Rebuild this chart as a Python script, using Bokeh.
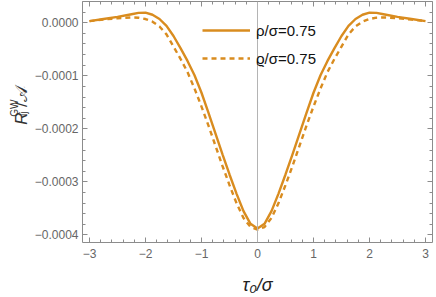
from math import pi
import numpy as np
from bokeh.plotting import figure
from bokeh.layouts import row
from bokeh.models import Range1d, FixedTicker, LinearAxis, Span, Label, Legend, LegendItem
from bokeh.embed import file_html
from bokeh.resources import INLINE

# ---- data ----
tau = [-3.0, -2.75, -2.5, -2.25, -2.125, -2.0, -1.875, -1.75, -1.625, -1.5, -1.375,
       -1.25, -1.125, -1.0, -0.875, -0.75, -0.625, -0.5, -0.375, -0.25, -0.125, 0.0,
       0.125, 0.25, 0.375, 0.5, 0.625, 0.75, 0.875, 1.0, 1.125, 1.25, 1.375, 1.5,
       1.625, 1.75, 1.875, 2.0, 2.125, 2.25, 2.5, 2.75, 3.0]

r_solid = [3.0e-6, 7.0e-6, 1.1e-5, 1.6e-5, 1.85e-5, 1.9e-5, 1.5e-5, 7.0e-6, -6.0e-6, -2.5e-5, -4.8e-5,
           -7.2e-5, -9.9e-5, -1.32e-4, -1.70e-4, -2.09e-4, -2.48e-4, -2.86e-4, -3.22e-4, -3.55e-4, -3.79e-4, -3.877e-4,
           -3.79e-4, -3.55e-4, -3.22e-4, -2.86e-4, -2.48e-4, -2.09e-4, -1.70e-4, -1.32e-4, -9.9e-5, -7.2e-5, -4.8e-5, -2.5e-5,
           -6.0e-6, 7.0e-6, 1.5e-5, 1.9e-5, 1.85e-5, 1.6e-5, 1.1e-5, 7.0e-6, 3.0e-6]

r_dashed = [3.0e-6, 6.0e-6, 8.5e-6, 1.0e-5, 9.5e-6, 7.0e-6, 2.0e-6, -7.0e-6, -2.2e-5, -4.5e-5, -6.8e-5,
            -9.3e-5, -1.24e-4, -1.58e-4, -1.94e-4, -2.32e-4, -2.70e-4, -3.06e-4, -3.40e-4, -3.68e-4, -3.85e-4, -3.90e-4,
            -3.85e-4, -3.68e-4, -3.40e-4, -3.06e-4, -2.70e-4, -2.32e-4, -1.94e-4, -1.58e-4, -1.24e-4, -9.3e-5, -6.8e-5, -4.5e-5,
            -2.2e-5, -7.0e-6, 2.0e-6, 7.0e-6, 9.5e-6, 1.0e-5, 8.5e-6, 6.0e-6, 3.0e-6]

x_ticks = [-3, -2, -1, 0, 1, 2, 3]
x_tick_labels = ["\u22123", "\u22122", "\u22121", "0", "1", "2", "3"]
y_ticks = [-0.0004, -0.0003, -0.0002, -0.0001, 0.0]
y_tick_labels = ["\u22120.0004", "\u22120.0003", "\u22120.0002", "\u22120.0001", "0.0000"]
legend_labels = ["\u03c1/\u03c3=0.75", "\u03f1/\u03c3=0.75"]

ORANGE = "#D98C1F"
FRAME = "#8c8c8c"
LABEL = "#666666"
FONT = "Liberation Sans"

# ---- narrow strip holding the composite y-axis title ----
lab = figure(width=30, height=297, output_backend="svg", toolbar_location=None,
             x_range=Range1d(0, 30), y_range=Range1d(0, 297),
             min_border=0, min_border_left=0, min_border_right=0, min_border_top=0, min_border_bottom=0)
lab.axis.visible = False
lab.grid.visible = False
lab.outline_line_color = None
ylab = [("R", 21, 145, "17px", "italic"),
        ("GW", 14, 155, "10px", "normal"),
        ("ij", 23, 156, "10px", "normal"),
        ("/\U0001D49C", 21, 167, "17px", "normal")]
for txt, xx, yy, fs, st in ylab:
    lab.add_layout(Label(x=xx, y=yy, text=txt, angle=pi/2, text_font=FONT,
                         text_font_size=fs, text_font_style=st, text_color="#333333",
                         text_align="left", text_baseline="alphabetic"))

# ---- main plot ----
p = figure(width=406, height=297, output_backend="svg", toolbar_location=None,
           x_range=Range1d(-3.125, 3.125), y_range=Range1d(-4.142e-4, 4.0e-5),
           min_border_left=52, min_border_right=4, min_border_top=1, min_border_bottom=50)
p.xgrid.visible = False
p.ygrid.visible = False
p.outline_line_color = FRAME
p.outline_line_width = 1
p.background_fill_color = "white"
p.border_fill_color = "white"

x_minor = [round(v, 2) for v in np.arange(-3.0, 3.01, 0.2)]
y_minor = [round(v, 7) for v in np.arange(-0.0004, 0.000041, 0.00002)]
xt = FixedTicker(ticks=x_ticks, minor_ticks=x_minor)
yt = FixedTicker(ticks=y_ticks, minor_ticks=y_minor)

def style(ax, labels):
    ax.axis_line_color = None
    ax.major_tick_line_color = FRAME
    ax.minor_tick_line_color = FRAME
    ax.major_tick_in = 5
    ax.major_tick_out = 0
    ax.minor_tick_in = 3
    ax.minor_tick_out = 0
    if labels:
        ax.major_label_text_font = FONT
        ax.major_label_text_font_size = "12px"
        ax.major_label_text_color = LABEL
    else:
        ax.major_label_text_font_size = "0px"
        ax.major_label_standoff = 0

p.xaxis.ticker = xt
p.yaxis.ticker = yt
p.xaxis.major_label_overrides = dict(zip(x_ticks, x_tick_labels))
p.yaxis.major_label_overrides = dict(zip(y_ticks, y_tick_labels))
style(p.xaxis[0], True)
style(p.yaxis[0], True)
p.xaxis.major_label_standoff = 6
p.yaxis.major_label_standoff = 4
p.xaxis.axis_label = "\u03c4\u2080/\u03c3"
p.xaxis.axis_label_text_font = FONT
p.xaxis.axis_label_text_font_size = "18px"
p.xaxis.axis_label_text_font_style = "italic"
p.xaxis.axis_label_text_color = "#222222"
p.xaxis.axis_label_standoff = 14

top = LinearAxis(ticker=xt)
style(top, False)
top.major_label_overrides = {t: "" for t in x_ticks}
p.add_layout(top, "above")
right = LinearAxis(ticker=yt)
style(right, False)
right.major_label_overrides = {t: "" for t in y_ticks}
p.add_layout(right, "right")

p.add_layout(Span(location=0, dimension="height", line_color="#b4b4b4", line_width=1))

l1 = p.line(tau, r_solid, line_color=ORANGE, line_width=2.4)
l2 = p.line(tau, r_dashed, line_color=ORANGE, line_width=2.4, line_dash="5 4")

legend = Legend(items=[LegendItem(label=legend_labels[0], renderers=[l1]),
                       LegendItem(label=legend_labels[1], renderers=[l2])],
                location=(120, 174), padding=0, margin=0, spacing=8,
                glyph_width=48, glyph_height=20, label_height=20, label_standoff=6,
                border_line_color=None, background_fill_alpha=0,
                label_text_font=FONT, label_text_font_size="15px", label_text_color="#111111")
p.add_layout(legend)

layout = row(lab, p, spacing=0)
open("out.html", "w").write(file_html(layout, INLINE))
